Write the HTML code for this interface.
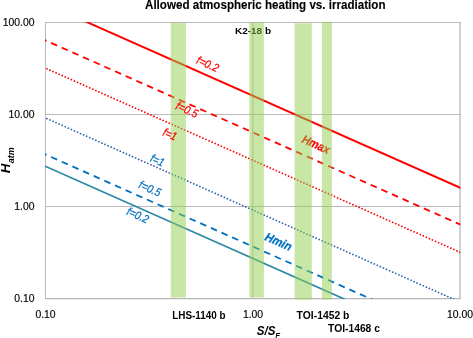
<!DOCTYPE html><html><head><meta charset="utf-8"><style>
html,body{margin:0;padding:0;background:#fff;}
svg{display:block;will-change:transform;}
text{font-family:"Liberation Sans",sans-serif;}
</style></head><body>
<svg width="473" height="338" viewBox="0 0 473 338">
<rect x="0" y="0" width="473" height="338" fill="#fff"/>
<defs><clipPath id="pc"><rect x="45" y="22" width="415.3" height="277"/></clipPath></defs>

<line x1="45" y1="22.5" x2="460.5" y2="22.5" stroke="#bbbbbb" stroke-width="1"/>
<line x1="45" y1="114.5" x2="460.5" y2="114.5" stroke="#bbbbbb" stroke-width="1"/>
<line x1="45" y1="206.5" x2="460.5" y2="206.5" stroke="#bbbbbb" stroke-width="1"/>
<line x1="45" y1="298.6" x2="460.5" y2="298.6" stroke="#b8b8b8" stroke-width="1.15"/>
<line x1="45.5" y1="22" x2="45.5" y2="299" stroke="#bbbbbb" stroke-width="1"/>
<line x1="252.8" y1="22" x2="252.8" y2="299" stroke="#b8b8b8" stroke-width="1"/>
<line x1="460" y1="22" x2="460" y2="299" stroke="#b4b4b4" stroke-width="1.2"/>
<g clip-path="url(#pc)" fill="none">
<line x1="40.5" y1="1.48" x2="465.0" y2="189.92" stroke="#ff0000" stroke-width="1.95"/>
<line x1="40.5" y1="38.18" x2="465.0" y2="226.62" stroke="#ff0000" stroke-width="1.8" stroke-dasharray="6.6 5.054" stroke-dashoffset="0.057"/>
<line x1="40.5" y1="65.98" x2="465.0" y2="254.42" stroke="#ff0000" stroke-width="1.75" stroke-dasharray="0.01 3.338" stroke-dashoffset="3.085" stroke-linecap="round"/>
<line x1="40.5" y1="115.78" x2="465.0" y2="304.22" stroke="#2e64ac" stroke-width="1.75" stroke-dasharray="0.01 3.338" stroke-dashoffset="3.085" stroke-linecap="round"/>
<line x1="40.5" y1="152.28" x2="465.0" y2="340.72" stroke="#0070c0" stroke-width="1.8" stroke-dasharray="6.6 5.054" stroke-dashoffset="0.057"/>
<line x1="40.5" y1="164.18" x2="465.0" y2="352.62" stroke="#2a88a4" stroke-width="1.7"/>
</g>
<text x="235" y="33.5" font-size="9.6" font-weight="bold" fill="#000" textLength="36" lengthAdjust="spacingAndGlyphs">K2-18 b</text>
<text transform="translate(316.0,144.5) rotate(23.94)" x="0" y="0" text-anchor="middle" dominant-baseline="central" font-size="12" fill="#ff0000" font-weight="bold" font-style="italic" textLength="29.5" lengthAdjust="spacingAndGlyphs" stroke="#ff0000" stroke-width="0.25">Hmax</text>
<rect x="170.8" y="23.0" width="15.1" height="274.6" fill="#92d050" fill-opacity="0.5"/>
<rect x="249.3" y="22.4" width="14.6" height="275.1" fill="#92d050" fill-opacity="0.5"/>
<rect x="294.6" y="23.3" width="17.2" height="276.2" fill="#92d050" fill-opacity="0.5"/>
<rect x="321.9" y="21.8" width="10.0" height="277.7" fill="#92d050" fill-opacity="0.5"/>
<text transform="translate(207.7,64.0) rotate(23.94)" x="0" y="0" text-anchor="middle" dominant-baseline="central" font-size="11.5" fill="#ff0000" font-weight="normal" font-style="italic" textLength="23" lengthAdjust="spacingAndGlyphs" stroke="#ff0000" stroke-width="0.25">f=0.2</text>
<text transform="translate(187.0,109.7) rotate(23.94)" x="0" y="0" text-anchor="middle" dominant-baseline="central" font-size="11.5" fill="#ff0000" font-weight="normal" font-style="italic" textLength="23" lengthAdjust="spacingAndGlyphs" stroke="#ff0000" stroke-width="0.25">f=0.5</text>
<text transform="translate(169.9,134.3) rotate(23.94)" x="0" y="0" text-anchor="middle" dominant-baseline="central" font-size="11.5" fill="#ff0000" font-weight="normal" font-style="italic" textLength="14" lengthAdjust="spacingAndGlyphs" stroke="#ff0000" stroke-width="0.25">f=1</text>
<text transform="translate(157.5,160.3) rotate(23.94)" x="0" y="0" text-anchor="middle" dominant-baseline="central" font-size="11.5" fill="#0070c0" font-weight="normal" font-style="italic" textLength="14" lengthAdjust="spacingAndGlyphs" stroke="#0070c0" stroke-width="0.25">f=1</text>
<text transform="translate(150.0,188.6) rotate(23.94)" x="0" y="0" text-anchor="middle" dominant-baseline="central" font-size="11.5" fill="#0070c0" font-weight="normal" font-style="italic" textLength="23" lengthAdjust="spacingAndGlyphs" stroke="#0070c0" stroke-width="0.25">f=0.5</text>
<text transform="translate(137.8,215.2) rotate(23.94)" x="0" y="0" text-anchor="middle" dominant-baseline="central" font-size="11.5" fill="#0070c0" font-weight="normal" font-style="italic" textLength="23" lengthAdjust="spacingAndGlyphs" stroke="#0070c0" stroke-width="0.25">f=0.2</text>
<text transform="translate(278.5,241.7) rotate(23.94)" x="0" y="0" text-anchor="middle" dominant-baseline="central" font-size="12" fill="#0070c0" font-weight="bold" font-style="italic" textLength="28" lengthAdjust="spacingAndGlyphs" stroke="#0070c0" stroke-width="0.28">Hmin</text>
<text x="145" y="9.2" font-size="12" font-weight="bold" fill="#000" stroke="#000" stroke-width="0.12" textLength="240.5" lengthAdjust="spacingAndGlyphs">Allowed atmospheric heating vs. irradiation</text>
<text x="34.5" y="25.8" font-size="10.4" fill="#000" stroke="#000" stroke-width="0.15" text-anchor="end">100.00</text>
<text x="34.5" y="117.8" font-size="10.4" fill="#000" stroke="#000" stroke-width="0.15" text-anchor="end">10.00</text>
<text x="34.5" y="209.8" font-size="10.4" fill="#000" stroke="#000" stroke-width="0.15" text-anchor="end">1.00</text>
<text x="34.5" y="301.8" font-size="10.4" fill="#000" stroke="#000" stroke-width="0.15" text-anchor="end">0.10</text>
<text x="45.5" y="317.7" font-size="10.4" fill="#000" stroke="#000" stroke-width="0.15" text-anchor="middle">0.10</text>
<text x="253" y="317.7" font-size="10.4" fill="#000" stroke="#000" stroke-width="0.15" text-anchor="middle">1.00</text>
<text x="460" y="317.7" font-size="10.4" fill="#000" stroke="#000" stroke-width="0.15" text-anchor="middle">10.00</text>
<text x="172.2" y="318.6" font-size="10.3" font-weight="bold" fill="#000" textLength="53.4" lengthAdjust="spacingAndGlyphs">LHS-1140 b</text>
<text x="296.6" y="319.2" font-size="10.3" font-weight="bold" fill="#000" textLength="52.8" lengthAdjust="spacingAndGlyphs">TOI-1452 b</text>
<text x="328.1" y="332.1" font-size="10.3" font-weight="bold" fill="#000" textLength="51.8" lengthAdjust="spacingAndGlyphs">TOI-1468 c</text>
<text x="256.8" y="334.6" font-size="12.6" font-weight="bold" font-style="italic" fill="#000" textLength="18.6" lengthAdjust="spacingAndGlyphs">S/S</text>
<text x="275.2" y="338.6" font-size="8.6" font-weight="bold" font-style="italic" fill="#000" textLength="4.8" lengthAdjust="spacingAndGlyphs">E</text>
<text transform="translate(9.7,173.2) rotate(-90)" x="0" y="0" font-size="13.3" font-weight="bold" font-style="italic" fill="#000">H<tspan font-size="9" dy="4.4" dx="0.3">atm</tspan></text>
</svg></body></html>
